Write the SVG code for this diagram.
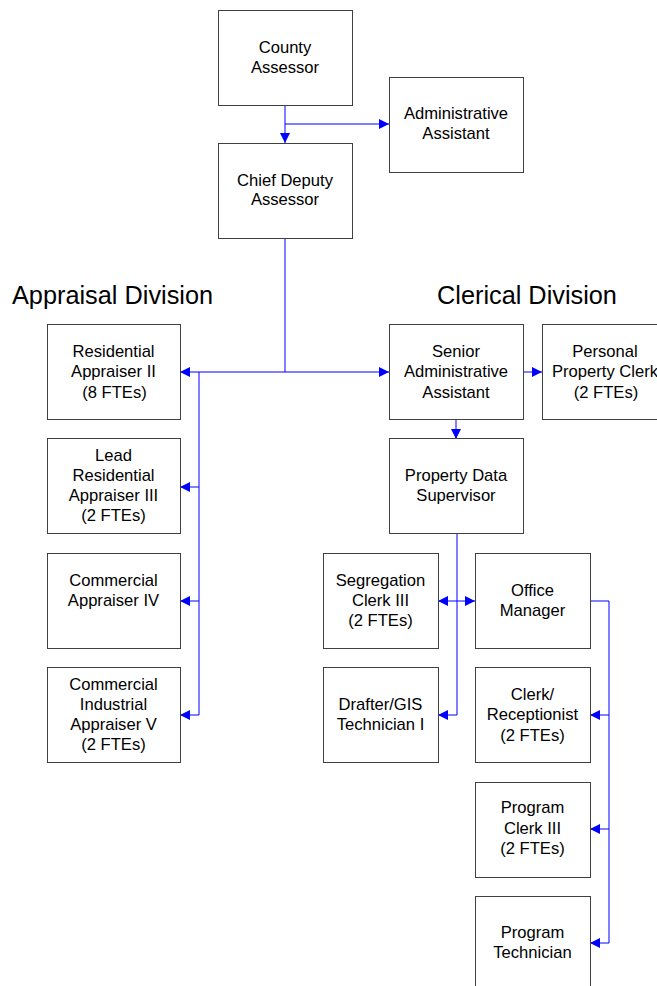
<svg xmlns="http://www.w3.org/2000/svg" width="657" height="986" viewBox="0 0 657 986">
<style>
.box{fill:#fff;stroke:#404040;stroke-width:1}
.t{font-family:"Liberation Sans",Arial,sans-serif;font-size:16.6px;fill:#000;text-anchor:middle}
.h{font-family:"Liberation Sans",Arial,sans-serif;font-size:25.3px;fill:#000}
.c{fill:none;stroke:#0000ff;stroke-width:1}
</style>
<defs>
<marker id="ah" markerUnits="userSpaceOnUse" markerWidth="11" markerHeight="11" refX="10" refY="5" orient="auto">
<path d="M0,0 L10,5 L0,10 z" fill="#0000ff"/>
</marker>
</defs>
<rect width="657" height="986" fill="#fff"/>
<text class="h" x="12" y="304">Appraisal Division</text>
<text class="h" x="437" y="304">Clerical Division</text>
<g id="connectors">
<path class="c" d="M285,105 V143" marker-end="url(#ah)"/>
<path class="c" d="M285,124 H389" marker-end="url(#ah)"/>
<path class="c" d="M285,239 V372"/>
<path class="c" d="M285,372 H180" marker-end="url(#ah)"/>
<path class="c" d="M285,372 H389" marker-end="url(#ah)"/>
<path class="c" d="M199,372 V715"/>
<path class="c" d="M199,487 H180" marker-end="url(#ah)"/>
<path class="c" d="M199,601 H180" marker-end="url(#ah)"/>
<path class="c" d="M199,715 H180" marker-end="url(#ah)"/>
<path class="c" d="M523,372 H542" marker-end="url(#ah)"/>
<path class="c" d="M456,420 V439" marker-end="url(#ah)"/>
<path class="c" d="M457,534 V715 H438" marker-end="url(#ah)"/>
<path class="c" d="M457,601 H438" marker-end="url(#ah)"/>
<path class="c" d="M457,601 H475" marker-end="url(#ah)"/>
<path class="c" d="M590,601 H609 V943 H590" marker-end="url(#ah)"/>
<path class="c" d="M609,715 H590" marker-end="url(#ah)"/>
<path class="c" d="M609,829 H590" marker-end="url(#ah)"/>
</g>
<g id="county-assessor">
<rect class="box" x="218.5" y="10.5" width="134" height="95"/>
<text class="t" x="285" y="53">County</text>
<text class="t" x="285" y="73">Assessor</text>
</g>
<g id="administrative-assistant">
<rect class="box" x="389.5" y="77.5" width="134" height="95"/>
<text class="t" x="456" y="119">Administrative</text>
<text class="t" x="456" y="139">Assistant</text>
</g>
<g id="chief-deputy-assessor">
<rect class="box" x="218.5" y="143.5" width="134" height="95"/>
<text class="t" x="285" y="186">Chief Deputy</text>
<text class="t" x="285" y="205">Assessor</text>
</g>
<g id="residential-appraiser-ii">
<rect class="box" x="47.5" y="324.5" width="133" height="95"/>
<text class="t" x="113.5" y="357">Residential</text>
<text class="t" x="113.5" y="377">Appraiser II</text>
<text class="t" x="114.5" y="398">(8 FTEs)</text>
</g>
<g id="lead-residential-appraiser-iii">
<rect class="box" x="47.5" y="438.5" width="133" height="95"/>
<text class="t" x="113.5" y="461">Lead</text>
<text class="t" x="113.5" y="481">Residential</text>
<text class="t" x="113.5" y="501">Appraiser III</text>
<text class="t" x="113.5" y="521">(2 FTEs)</text>
</g>
<g id="commercial-appraiser-iv">
<rect class="box" x="47.5" y="553.5" width="133" height="95"/>
<text class="t" x="113.5" y="586">Commercial</text>
<text class="t" x="113.5" y="606">Appraiser IV</text>
</g>
<g id="commercial-industrial-appraiser-v">
<rect class="box" x="47.5" y="667.5" width="133" height="95"/>
<text class="t" x="113.5" y="690">Commercial</text>
<text class="t" x="113.5" y="710">Industrial</text>
<text class="t" x="113.5" y="730">Appraiser V</text>
<text class="t" x="113.5" y="750">(2 FTEs)</text>
</g>
<g id="senior-administrative-assistant">
<rect class="box" x="389.5" y="324.5" width="134" height="95"/>
<text class="t" x="456" y="357">Senior</text>
<text class="t" x="456" y="377">Administrative</text>
<text class="t" x="456" y="398">Assistant</text>
</g>
<g id="personal-property-clerk">
<rect class="box" x="542.5" y="324.5" width="134" height="95"/>
<text class="t" x="605" y="357">Personal</text>
<text class="t" x="605" y="377">Property Clerk</text>
<text class="t" x="606" y="398">(2 FTEs)</text>
</g>
<g id="property-data-supervisor">
<rect class="box" x="389.5" y="438.5" width="134" height="95"/>
<text class="t" x="456" y="481">Property Data</text>
<text class="t" x="456" y="501">Supervisor</text>
</g>
<g id="segregation-clerk-iii">
<rect class="box" x="323.5" y="553.5" width="115" height="95"/>
<text class="t" x="380.5" y="586">Segregation</text>
<text class="t" x="380.5" y="606">Clerk III</text>
<text class="t" x="380.5" y="626">(2 FTEs)</text>
</g>
<g id="office-manager">
<rect class="box" x="475.5" y="553.5" width="115" height="95"/>
<text class="t" x="532.5" y="596">Office</text>
<text class="t" x="532.5" y="616">Manager</text>
</g>
<g id="drafter-gis-technician-i">
<rect class="box" x="323.5" y="667.5" width="115" height="95"/>
<text class="t" x="380.5" y="710">Drafter/GIS</text>
<text class="t" x="380.5" y="730">Technician I</text>
</g>
<g id="clerk-receptionist">
<rect class="box" x="475.5" y="667.5" width="115" height="95"/>
<text class="t" x="532.5" y="700">Clerk/</text>
<text class="t" x="532.5" y="720">Receptionist</text>
<text class="t" x="532.5" y="741">(2 FTEs)</text>
</g>
<g id="program-clerk-iii">
<rect class="box" x="475.5" y="782.5" width="115" height="95"/>
<text class="t" x="532.5" y="813">Program</text>
<text class="t" x="532.5" y="834">Clerk III</text>
<text class="t" x="532.5" y="854">(2 FTEs)</text>
</g>
<g id="program-technician">
<rect class="box" x="475.5" y="896.5" width="115" height="95"/>
<text class="t" x="532.5" y="938">Program</text>
<text class="t" x="532.5" y="958">Technician</text>
</g>
</svg>
